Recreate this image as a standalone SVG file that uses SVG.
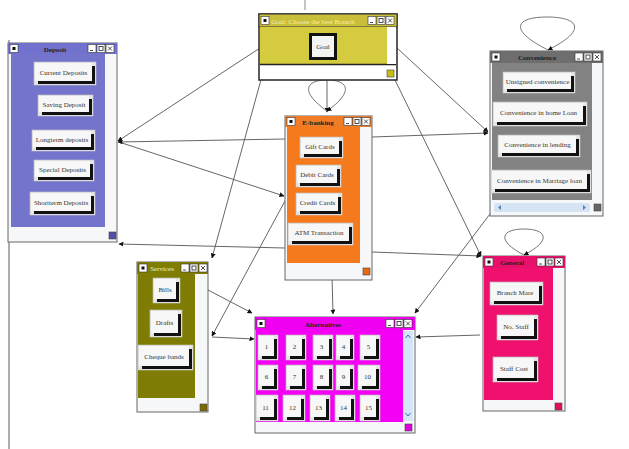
<svg xmlns="http://www.w3.org/2000/svg" width="629" height="449" viewBox="0 0 629 449">
<style>
.frame{fill:#f6f7f9;stroke:#666;stroke-width:1}
.ttl{font-family:"Liberation Serif",serif;font-size:7px;font-weight:bold;fill:#222;text-anchor:middle}
.btxt{font-family:"Liberation Serif",serif;font-size:7px;fill:#333;text-anchor:middle}
.bout{fill:#e6e6e6;stroke:#c8c8c8;stroke-width:0.6}
.bsh{fill:#111}
.bface{fill:#f7f7f7}
.wb{fill:#fff;stroke:#333;stroke-width:0.6}
.wl{stroke:#222;stroke-width:0.8;fill:none}
.sq{stroke:#444;stroke-width:0.6}
.con{stroke:#555;stroke-width:0.9;fill:none;marker-end:url(#ah)}
.loop{stroke:#666;stroke-width:0.9;fill:none}
</style>
<defs>
<marker id="ah" viewBox="0 0 10 10" refX="9" refY="5" markerWidth="5" markerHeight="5" orient="auto" markerUnits="userSpaceOnUse">
<path d="M0,0 L10,5 L0,10 z" fill="#111"/>
</marker>
<g id="ctl">
<rect class="wb" x="0" y="0" width="8" height="8"/>
<line class="wl" x1="2" y1="6" x2="5" y2="6"/>
<rect class="wb" x="9" y="0" width="8" height="8"/>
<rect x="11" y="2" width="4" height="4" fill="none" stroke="#222" stroke-width="0.8"/>
<rect class="wb" x="18" y="0" width="8" height="8"/>
<path class="wl" d="M20,2 L24,6 M24,2 L20,6"/>
</g>
<g id="ico">
<rect class="wb" x="0" y="0" width="8" height="8"/>
<rect x="2.5" y="2.5" width="3" height="3" fill="#111"/>
</g>
</defs>
<rect x="0" y="0" width="629" height="449" fill="#ffffff"/>
<line x1="9" y1="40" x2="9" y2="449" stroke="#777" stroke-width="1.2"/>
<line x1="305" y1="0" x2="305" y2="10" stroke="#888" stroke-width="1"/>

<g id="connectors">
<path class="con" d="M260,48 L118,141"/>
<path class="con" d="M285,139 L118,142"/>
<path class="con" d="M122,143 L284,196"/>
<path class="con" d="M262,76 L212,258"/>
<path class="con" d="M327,80 L327,112"/>
<path class="con" d="M397,48 L488,132"/>
<path class="con" d="M372,137 L488,133"/>
<path class="con" d="M395,80 L481,256"/>
<path class="con" d="M372,252 L481,256"/>
<path class="con" d="M285,248 L119,244"/>
<path class="con" d="M292,188 L212,336"/>
<path class="con" d="M212,337 L254,339"/>
<path class="con" d="M208,290 L252,313"/>
<path class="con" d="M332,276 L333,314"/>
<path class="con" d="M493,210 L415,313"/>
<path class="con" d="M480,335 L416,337"/>
<path class="loop" d="M327,111 C300,92 305,80 327,80 C349,80 354,92 327,111" marker-end="url(#ah)"/>
<path class="loop" d="M548,50 C508,30 515,17 547,17 C579,17 588,30 548,50" marker-end="url(#ah)"/>
<path class="loop" d="M524,255 C495,240 502,229 524,229 C546,229 553,240 524,255" marker-end="url(#ah)"/>
</g>

<g id="goal">
<rect x="259" y="14" width="138" height="66" fill="#fff" stroke="#333" stroke-width="1.6"/>
<rect x="259" y="14" width="138" height="13" fill="#C9BE3A" stroke="#333" stroke-width="1"/>
<use href="#ico" x="261" y="16.5"/>
<text class="ttl" x="313" y="23.5" style="fill:#f6f0b8;font-weight:normal">Goal: Choose the best Branch</text>
<use href="#ctl" x="368" y="16.5"/>
<rect x="260" y="27" width="127" height="37" fill="#D5CB3F"/>
<line x1="260" y1="64.5" x2="396" y2="64.5" stroke="#222" stroke-width="1.5"/>
<rect x="387" y="27" width="9" height="37" fill="#fff"/>
<rect class="sq" x="387" y="70" width="7" height="7" fill="#C8BE10"/>
<rect x="309" y="33" width="28" height="27" fill="#111"/>
<rect x="312" y="36" width="22" height="21" fill="#f3f3f3"/>
<text class="btxt" x="323" y="49">Goal</text>
</g>

<g id="deposit">
<rect class="frame" x="8" y="43" width="109" height="199"/>
<rect x="8" y="43" width="109" height="11" fill="#7272CE"/>
<use href="#ico" x="10" y="44.5"/>
<text class="ttl" x="55" y="51.5">Deposit</text>
<use href="#ctl" x="88" y="44.5"/>
<rect x="11" y="54" width="94" height="173" fill="#7474CC"/>
<rect class="sq" x="109" y="232" width="7" height="7" fill="#5050A8"/>
<g><rect class="bout" x="34" y="62" width="62" height="23"/><rect class="bsh" x="38" y="66" width="57" height="18"/><rect class="bface" x="35" y="63" width="57" height="18"/><text class="btxt" x="63.5" y="74.5">Current Deposits</text></g>
<g><rect class="bout" x="38" y="95" width="55" height="21"/><rect class="bsh" x="42" y="99" width="50" height="16"/><rect class="bface" x="39" y="96" width="50" height="16"/><text class="btxt" x="64" y="106.5">Saving Deposit</text></g>
<g><rect class="bout" x="32" y="130" width="63" height="21"/><rect class="bsh" x="36" y="134" width="58" height="16"/><rect class="bface" x="33" y="131" width="58" height="16"/><text class="btxt" x="62" y="141.5">Longterm deposits</text></g>
<g><rect class="bout" x="34" y="160" width="60" height="21"/><rect class="bsh" x="38" y="164" width="55" height="16"/><rect class="bface" x="35" y="161" width="55" height="16"/><text class="btxt" x="62.5" y="171.5">Special Deposits</text></g>
<g><rect class="bout" x="30" y="192" width="65" height="23"/><rect class="bsh" x="34" y="196" width="60" height="18"/><rect class="bface" x="31" y="193" width="60" height="18"/><text class="btxt" x="61" y="204.5">Shortterm Deposits</text></g>
</g>

<g id="ebanking">
<rect class="frame" x="285" y="116" width="87" height="164"/>
<rect x="285" y="116" width="87" height="11" fill="#F07C28"/>
<use href="#ico" x="287" y="117.5"/>
<text class="ttl" x="318" y="124.5">E-banking</text>
<use href="#ctl" x="344" y="117.5"/>
<rect x="287" y="127" width="73" height="136" fill="#F57A1E"/>
<rect class="sq" x="363" y="268" width="7" height="7" fill="#E86A10"/>
<g><rect class="bout" x="300" y="137" width="43" height="21"/><rect class="bsh" x="304" y="141" width="38" height="16"/><rect class="bface" x="301" y="138" width="38" height="16"/><text class="btxt" x="320" y="148.5">Gift Cards</text></g>
<g><rect class="bout" x="296" y="165" width="45" height="22"/><rect class="bsh" x="300" y="169" width="40" height="17"/><rect class="bface" x="297" y="166" width="40" height="17"/><text class="btxt" x="317" y="177">Debit Cards</text></g>
<g><rect class="bout" x="296" y="193" width="46" height="22"/><rect class="bsh" x="300" y="197" width="41" height="17"/><rect class="bface" x="297" y="194" width="41" height="17"/><text class="btxt" x="317.5" y="205">Credit Cards</text></g>
<g><rect class="bout" x="288" y="223" width="65" height="22"/><rect class="bsh" x="292" y="227" width="60" height="17"/><rect class="bface" x="289" y="224" width="60" height="17"/><text class="btxt" x="319" y="235">ATM Transaction</text></g>
</g>

<g id="convenience">
<rect class="frame" x="490" y="51" width="113" height="165"/>
<rect x="490" y="51" width="113" height="12" fill="#6E6E6E"/>
<use href="#ico" x="492" y="53"/>
<text class="ttl" x="537" y="60">Convenience</text>
<use href="#ctl" x="575" y="53"/>
<rect x="492" y="63" width="100" height="137" fill="#828282"/>
<rect x="494" y="203" width="96" height="9" fill="#d4e4f2" rx="2"/>
<path d="M498,207.5 L501,205 L501,210 z M586,207.5 L583,205 L583,210 z" fill="#5a7fc0"/>
<rect class="sq" x="594" y="204" width="7" height="7" fill="#666"/>
<g><rect class="bout" x="503" y="72" width="72" height="21"/><rect class="bsh" x="507" y="76" width="67" height="16"/><rect class="bface" x="504" y="73" width="67" height="16"/><text class="btxt" x="537.5" y="83.5">Unsigned convenience</text></g>
<g><rect class="bout" x="493" y="102" width="94" height="24"/><rect class="bsh" x="497" y="106" width="89" height="19"/><rect class="bface" x="494" y="103" width="89" height="19"/><text class="btxt" x="538.5" y="115">Convenience in home Loan</text></g>
<g><rect class="bout" x="498" y="135" width="82" height="22"/><rect class="bsh" x="502" y="139" width="77" height="17"/><rect class="bface" x="499" y="136" width="77" height="17"/><text class="btxt" x="537.5" y="147">Convenience in lending</text></g>
<g><rect class="bout" x="491" y="170" width="100" height="23"/><rect class="bsh" x="495" y="174" width="95" height="18"/><rect class="bface" x="492" y="171" width="95" height="18"/><text class="btxt" x="539.5" y="182.5">Convenience in Marriage loan</text></g>
</g>

<g id="services">
<rect class="frame" x="137" y="262" width="71" height="150"/>
<rect x="137" y="262" width="71" height="12" fill="#807E00"/>
<use href="#ico" x="139" y="264"/>
<text class="ttl" x="162" y="271" style="fill:#f0f0d0;font-weight:normal">Services</text>
<use href="#ctl" x="181" y="264"/>
<rect x="138" y="274" width="57" height="124" fill="#7E7C02"/>
<rect class="sq" x="200" y="404" width="7" height="7" fill="#7A6A00"/>
<g><rect class="bout" x="153" y="278" width="27" height="25"/><rect class="bsh" x="157" y="282" width="22" height="20"/><rect class="bface" x="154" y="279" width="22" height="20"/><text class="btxt" x="165" y="291.5">Bills</text></g>
<g><rect class="bout" x="150" y="310" width="32" height="27"/><rect class="bsh" x="154" y="314" width="27" height="22"/><rect class="bface" x="151" y="311" width="27" height="22"/><text class="btxt" x="164.5" y="324.5">Drafts</text></g>
<g><rect class="bout" x="138" y="345" width="55" height="25"/><rect class="bsh" x="142" y="349" width="50" height="20"/><rect class="bface" x="139" y="346" width="50" height="20"/><text class="btxt" x="164" y="358.5">Cheque bands</text></g>
</g>

<g id="alternatives">
<rect class="frame" x="255" y="317" width="160" height="116"/>
<rect x="255" y="317" width="160" height="13" fill="#F000F0"/>
<use href="#ico" x="257" y="319.5"/>
<text class="ttl" x="323" y="326.5">Alternatives</text>
<use href="#ctl" x="386" y="319.5"/>
<rect x="256" y="330" width="147" height="92" fill="#F400F4"/>
<rect x="403" y="331" width="10" height="90" fill="#d4e6f6"/>
<path d="M405.5,338 L408,335 L410.5,338 M405.5,413 L408,416 L410.5,413" stroke="#3a6ab8" stroke-width="1" fill="none"/>
<rect class="sq" x="405" y="424" width="7" height="7" fill="#E000E0"/>
<g><rect class="bout" x="258" y="335" width="20" height="25"/><rect class="bsh" x="262" y="339" width="15" height="20"/><rect class="bface" x="259" y="336" width="15" height="20"/><text class="btxt" x="266.5" y="349">1</text></g>
<g><rect class="bout" x="286" y="335" width="20" height="25"/><rect class="bsh" x="290" y="339" width="15" height="20"/><rect class="bface" x="287" y="336" width="15" height="20"/><text class="btxt" x="294.5" y="349">2</text></g>
<g><rect class="bout" x="313" y="335" width="20" height="25"/><rect class="bsh" x="317" y="339" width="15" height="20"/><rect class="bface" x="314" y="336" width="15" height="20"/><text class="btxt" x="321.5" y="349">3</text></g>
<g><rect class="bout" x="336" y="335" width="18" height="25"/><rect class="bsh" x="340" y="339" width="13" height="20"/><rect class="bface" x="337" y="336" width="13" height="20"/><text class="btxt" x="343.5" y="349">4</text></g>
<g><rect class="bout" x="360" y="335" width="20" height="25"/><rect class="bsh" x="364" y="339" width="15" height="20"/><rect class="bface" x="361" y="336" width="15" height="20"/><text class="btxt" x="368.5" y="349">5</text></g>
<g><rect class="bout" x="258" y="365" width="20" height="25"/><rect class="bsh" x="262" y="369" width="15" height="20"/><rect class="bface" x="259" y="366" width="15" height="20"/><text class="btxt" x="266.5" y="379">6</text></g>
<g><rect class="bout" x="286" y="365" width="20" height="25"/><rect class="bsh" x="290" y="369" width="15" height="20"/><rect class="bface" x="287" y="366" width="15" height="20"/><text class="btxt" x="294.5" y="379">7</text></g>
<g><rect class="bout" x="313" y="365" width="20" height="25"/><rect class="bsh" x="317" y="369" width="15" height="20"/><rect class="bface" x="314" y="366" width="15" height="20"/><text class="btxt" x="321.5" y="379">8</text></g>
<g><rect class="bout" x="336" y="365" width="18" height="25"/><rect class="bsh" x="340" y="369" width="13" height="20"/><rect class="bface" x="337" y="366" width="13" height="20"/><text class="btxt" x="343.5" y="379">9</text></g>
<g><rect class="bout" x="358" y="365" width="22" height="25"/><rect class="bsh" x="362" y="369" width="17" height="20"/><rect class="bface" x="359" y="366" width="17" height="20"/><text class="btxt" x="367.5" y="379">10</text></g>
<g><rect class="bout" x="256" y="395" width="22" height="26"/><rect class="bsh" x="260" y="399" width="17" height="21"/><rect class="bface" x="257" y="396" width="17" height="21"/><text class="btxt" x="265.5" y="409.5">11</text></g>
<g><rect class="bout" x="283" y="395" width="22" height="26"/><rect class="bsh" x="287" y="399" width="17" height="21"/><rect class="bface" x="284" y="396" width="17" height="21"/><text class="btxt" x="292.5" y="409.5">12</text></g>
<g><rect class="bout" x="310" y="395" width="20" height="26"/><rect class="bsh" x="314" y="399" width="15" height="21"/><rect class="bface" x="311" y="396" width="15" height="21"/><text class="btxt" x="318.5" y="409.5">13</text></g>
<g><rect class="bout" x="335" y="395" width="20" height="26"/><rect class="bsh" x="339" y="399" width="15" height="21"/><rect class="bface" x="336" y="396" width="15" height="21"/><text class="btxt" x="343.5" y="410">14</text></g>
<g><rect class="bout" x="360" y="395" width="20" height="26"/><rect class="bsh" x="364" y="399" width="15" height="21"/><rect class="bface" x="361" y="396" width="15" height="21"/><text class="btxt" x="368.5" y="410">15</text></g>
</g>

<g id="general">
<rect class="frame" x="483" y="256" width="82" height="155"/>
<rect x="483" y="256" width="82" height="12" fill="#E8106A"/>
<use href="#ico" x="485" y="258"/>
<text class="ttl" x="512" y="265">General</text>
<use href="#ctl" x="537" y="258"/>
<rect x="484" y="268" width="69" height="132" fill="#F0106E"/>
<rect class="sq" x="555" y="403" width="7" height="7" fill="#E0105E"/>
<g><rect class="bout" x="490" y="282" width="53" height="23"/><rect class="bsh" x="494" y="286" width="48" height="18"/><rect class="bface" x="491" y="283" width="48" height="18"/><text class="btxt" x="515" y="294.5">Branch Mare</text></g>
<g><rect class="bout" x="497" y="315" width="41" height="25"/><rect class="bsh" x="501" y="319" width="36" height="20"/><rect class="bface" x="498" y="316" width="36" height="20"/><text class="btxt" x="516" y="328.5">No. Staff</text></g>
<g><rect class="bout" x="493" y="357" width="45" height="25"/><rect class="bsh" x="497" y="361" width="40" height="20"/><rect class="bface" x="494" y="358" width="40" height="20"/><text class="btxt" x="514" y="370.5">Staff Cost</text></g>
</g>
</svg>
